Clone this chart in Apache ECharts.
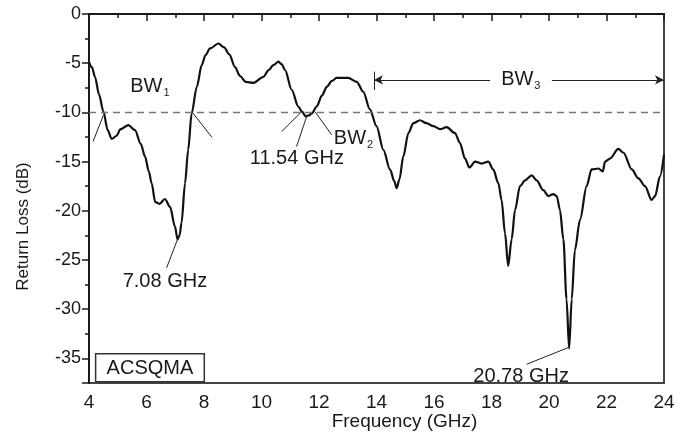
<!DOCTYPE html>
<html>
<head>
<meta charset="utf-8">
<script src="https://cdn.jsdelivr.net/npm/echarts@6/dist/echarts.min.js"></script>
<style>
  html, body { margin: 0; padding: 0; background: #fff; }
  #chart { width: 688px; height: 432px; }
</style>
</head>
<body>
<div id="chart"></div>
<script>
// 1. data (GHz, dB)
const freq = [
  4.00, 4.10, 4.21, 4.35, 4.50, 4.65, 4.79, 4.95, 5.10, 5.37, 5.60, 5.80, 5.95, 6.08, 6.18, 6.30,
  6.45, 6.64, 6.82, 6.99, 7.08, 7.15, 7.22, 7.34, 7.45, 7.57, 7.75, 7.92, 8.05, 8.21, 8.50, 8.70,
  8.88, 9.08, 9.25, 9.45, 9.72, 10.06, 10.25, 10.41, 10.59, 10.70, 10.82, 11.05, 11.28, 11.40, 11.54, 11.65,
  11.75, 11.92, 12.10, 12.27, 12.45, 12.61, 13.02, 13.31, 13.54, 13.77, 14.00, 14.24, 14.47, 14.62, 14.70, 14.80,
  14.93, 15.11, 15.28, 15.51, 15.74, 15.98, 16.21, 16.44, 16.73, 16.90, 17.08, 17.23, 17.43, 17.66, 17.89, 18.06,
  18.24, 18.35, 18.47, 18.58, 18.70, 18.82, 18.99, 19.17, 19.40, 19.57, 19.80, 19.98, 20.15, 20.27, 20.38, 20.50,
  20.61, 20.70, 20.79, 20.90, 21.08, 21.31, 21.48, 21.72, 21.87, 21.95, 22.12, 22.41, 22.59, 22.88, 23.11, 23.34,
  23.57, 23.69, 23.86, 24.00
];
const returnLoss = [
  -4.9, -5.4, -6.4, -8.2, -9.9, -11.8, -12.7, -12.4, -11.7, -11.3, -11.8, -13.2, -14.5, -16.0, -17.2, -19.1,
  -19.3, -18.8, -19.6, -21.6, -22.9, -22.5, -21.2, -17.2, -13.8, -10.1, -7.4, -5.2, -4.2, -3.5, -3.0, -3.4,
  -4.1, -5.4, -6.3, -6.9, -7.0, -6.4, -5.7, -5.2, -4.85, -5.1, -5.7, -7.7, -9.4, -9.9, -10.4, -10.3,
  -10.1, -9.4, -8.3, -7.4, -6.8, -6.5, -6.5, -6.9, -7.9, -9.7, -11.4, -13.8, -15.8, -17.0, -17.7, -16.8,
  -14.5, -12.1, -11.1, -10.8, -11.1, -11.4, -11.7, -11.5, -12.1, -13.1, -14.7, -15.6, -15.0, -15.2, -15.0, -15.8,
  -17.2, -18.9, -22.3, -25.6, -22.9, -19.9, -17.5, -16.9, -16.4, -16.9, -17.9, -18.5, -18.3, -18.5, -19.9, -22.9,
  -29.0, -34.0, -29.0, -24.0, -20.9, -17.5, -15.8, -15.7, -16.0, -15.0, -14.7, -13.7, -14.1, -15.8, -16.7, -17.5,
  -18.9, -18.5, -16.5, -14.3
];
const threshold = -10;

// 2. annotations in data units
const pointerLines = [
  [[4.14, -12.96], [4.50, -10.3]],
  [[7.58, -9.95], [8.28, -12.54]],
  [[10.70, -11.95], [11.40, -9.92]],
  [[11.22, -13.47], [11.57, -10.43]],
  [[12.44, -12.28], [11.86, -9.92]],
  [[6.70, -25.8], [7.10, -22.74]],
  [[19.22, -35.6], [20.67, -33.9]]
];
const bw3 = { start: 13.91, gapFrom: 17.95, gapTo: 20.1, end: 24, level: -6.7, barTop: -5.86, barBottom: -7.72 };
const notes = [
  { text: 'BW', sub: '1', at: [6.12, -7.4] },
  { text: 'BW', sub: '2', at: [13.2, -12.7] },
  { text: 'BW', sub: '3', at: [19.02, -6.7] },
  { text: '11.54 GHz', at: [11.23, -14.7] },
  { text: '7.08 GHz', at: [6.64, -27.2] },
  { text: '20.78 GHz', at: [19.03, -36.85] }
];
const boxLabel = { text: 'ACSQMA', at: [6.12, -35.95] };

// plot on a flipped axis so ticks start at 0
const flip = (db) => -db;
const pt = (p) => ({ coord: [p[0], flip(p[1])] });

const font = 'Liberation Sans, Arial, sans-serif';
const ink = '#1a1a1a';

const lineItems = pointerLines.map(([a, b]) => [pt(a), pt(b)]);
lineItems.push([pt([bw3.start, bw3.barTop]), pt([bw3.start, bw3.barBottom])]);
lineItems.push([
  { coord: [bw3.gapFrom, flip(bw3.level)], symbol: 'none' },
  { coord: [bw3.start, flip(bw3.level)], symbol: 'arrow' }
]);
lineItems.push([
  { coord: [bw3.gapTo, flip(bw3.level)], symbol: 'none' },
  { coord: [bw3.end, flip(bw3.level)], symbol: 'arrow' }
]);
lineItems.push({
  yAxis: flip(threshold),
  lineStyle: { type: [7, 5], color: '#777', width: 1.3 }
});

const noteItems = notes.map((n) => ({
  coord: [n.at[0], flip(n.at[1])],
  label: {
    formatter: n.sub ? '{t|' + n.text + '}{s|' + n.sub + '}' : '{t|' + n.text + '}'
  }
}));
noteItems.push({
  coord: [boxLabel.at[0], flip(boxLabel.at[1])],
  label: {
    formatter: '{t|' + boxLabel.text + '}',
    borderColor: '#333',
    borderWidth: 1.5,
    padding: [4, 11, 3, 11]
  }
});

// 3. chart
const chart = echarts.init(document.getElementById('chart'));
chart.setOption({
  animation: false,
  backgroundColor: '#fff',
  grid: {
    left: 89, right: 24, top: 14, bottom: 49,
    outerBoundsMode: 'none',
    containLabel: false,
    show: true, borderColor: '#444', borderWidth: 2, backgroundColor: 'transparent'
  },
  xAxis: {
    type: 'value',
    min: 4, max: 24, interval: 2,
    name: 'Frequency (GHz)',
    nameLocation: 'middle',
    nameGap: 29,
    nameMoveOverlap: false,
    nameTextStyle: { fontFamily: font, fontSize: 19, color: ink, padding: [0, 0, 0, 56] },
    axisLine: { lineStyle: { color: ink, width: 2 } },
    axisTick: { inside: false, length: 7, lineStyle: { color: ink, width: 1.5 } },
    minorTick: { show: true, splitNumber: 2, length: 4, lineStyle: { color: ink, width: 1.5 } },
    splitLine: { show: false },
    axisLabel: { fontFamily: font, fontSize: 19, color: ink, margin: 10 }
  },
  yAxis: {
    type: 'value',
    inverse: true,
    min: 0, max: 37.5, interval: 5,
    name: 'Return Loss (dB)',
    nameLocation: 'middle',
    nameGap: 57,
    nameMoveOverlap: false,
    nameTextStyle: { fontFamily: font, fontSize: 17, color: ink, padding: [0, 56, 0, 0] },
    axisLine: { lineStyle: { color: ink, width: 2 } },
    axisTick: { inside: false, length: 7, lineStyle: { color: ink, width: 1.5 } },
    minorTick: { show: true, splitNumber: 2, length: 4, lineStyle: { color: ink, width: 1.5 } },
    splitLine: { show: false },
    axisLabel: {
      fontFamily: font, fontSize: 18, color: ink, margin: 8,
      showMaxLabel: false,
      formatter: (v) => (v === 0 ? '0' : String(-v))
    }
  },
  series: [
    {
      type: 'line',
      data: freq.map((f, i) => [f, flip(returnLoss[i])]),
      showSymbol: false,
      smooth: 0.3,
      smoothMonotone: 'x',
      lineStyle: { color: '#111', width: 2.2 },
      z: 3,
      markLine: {
        silent: true,
        symbol: ['none', 'none'],
        symbolSize: [7, 9],
        label: { show: false },
        lineStyle: { type: 'solid', color: '#222', width: 1 },
        data: lineItems
      },
      markPoint: {
        silent: true,
        symbol: 'circle',
        symbolSize: 1,
        itemStyle: { color: 'rgba(0,0,0,0)' },
        label: {
          show: true,
          position: 'inside',
          color: ink,
          rich: {
            t: { fontFamily: font, fontSize: 20, color: ink, lineHeight: 21 },
            s: { fontFamily: font, fontSize: 11, color: ink, padding: [12, 0, 0, 1] }
          }
        },
        data: noteItems
      }
    }
  ]
});
</script>
</body>
</html>
